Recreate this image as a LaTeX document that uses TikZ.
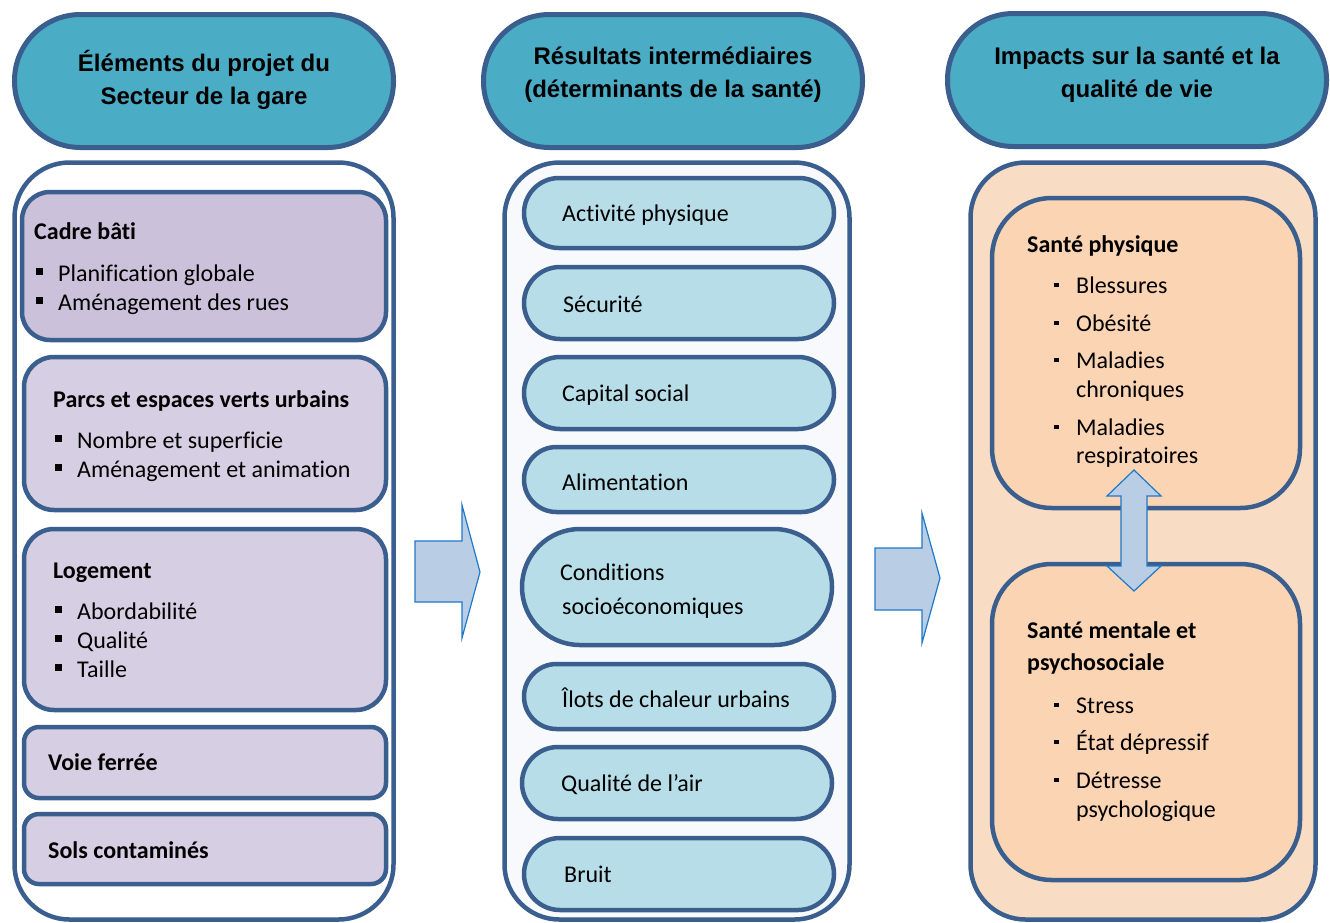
\documentclass[tikz,border=0pt]{standalone}
\usepackage{fontspec}
\setmainfont{Carlito}[Ligatures=CommonOff]
\newfontfamily\headfont{Liberation Sans}
\definecolor{edge}{HTML}{3A5F8E}
\definecolor{headblue}{HTML}{4BACC6}
\definecolor{lilacA}{HTML}{CCC1DA}
\definecolor{lilacB}{HTML}{D6CEE2}
\definecolor{paleblue}{HTML}{F7F9FD}
\definecolor{pillblue}{HTML}{B7DEE8}
\definecolor{peachout}{HTML}{F8DCC4}
\definecolor{peachin}{HTML}{FBD4B4}
\definecolor{arrowfill}{HTML}{B9CDE5}
\definecolor{arrowedge}{HTML}{1F78C8}
\newcommand{\bigsq}{\makebox[22pt][l]{\rule[6pt]{7pt}{7pt}}}
\newcommand{\smallsq}{\makebox[22pt][l]{\rule[6pt]{4.5pt}{4.5pt}}}

\begin{document}
\begin{tikzpicture}[x=1pt,y=-1pt,
    frame/.style={draw=edge, line width=4.5pt, inner sep=0pt, outer sep=0pt, anchor=north west},
    header/.style={draw=edge, line width=5pt, fill=headblue, minimum width=379pt, minimum height=133pt, rounded corners=66pt},
    headtext/.style={align=center, inner sep=0pt, font=\headfont\bfseries\fontsize{24}{33}\selectfont},
    pill/.style={frame, fill=pillblue, minimum width=310pt, minimum height=#1pt, rounded corners=#1*0.5pt},
    title/.style={anchor=base west, inner sep=0pt, font=\bfseries\fontsize{24}{29}\selectfont},
    itemtxt/.style={anchor=base west, inner sep=0pt, font=\fontsize{24}{29}\selectfont},
    blockarrow/.style={fill=arrowfill, draw=arrowedge, line width=1.2pt, line join=miter}]

    \useasboundingbox (0,0) rectangle (1330,922);

    % en-tetes
    \node[header] (projet) at (204,81) {};
    \node[header] (resultats) at (673,81) {};
    \node[header] (impacts) at (1137,80) {};
    \node[headtext] (projettxt) at (204,80) {Éléments du projet du\\Secteur de la gare};
    \node[headtext] (resultatstxt) at (673,75) {Résultats intermédiaires\\(déterminants de la santé)};
    \node[headtext] (impactstxt) at (1137,75) {Impacts sur la santé et la\\qualité de vie};

    % colonnes
    \node[frame, fill=white, rounded corners=55pt, minimum width=379pt, minimum height=757pt] (elems) at (14.5,162.5) {};
    \node[frame, fill=paleblue, rounded corners=55pt, minimum width=345pt, minimum height=757pt] (determ) at (504.5,162.5) {};
    \node[frame, fill=peachout, rounded corners=55pt, minimum width=345pt, minimum height=757pt] (sante) at (970.5,162.5) {};

    % elements du projet
    \node[frame, fill=lilacA, rounded corners=28pt, minimum width=364pt, minimum height=148pt] (cadre) at (22,192) {};
    \node[frame, fill=lilacB, rounded corners=30pt, minimum width=362pt, minimum height=153pt] (parcs) at (24,357) {};
    \node[frame, fill=lilacB, rounded corners=30pt, minimum width=362pt, minimum height=181pt] (logement) at (24,529) {};
    \node[frame, fill=lilacB, rounded corners=15pt, minimum width=362pt, minimum height=71pt] (voie) at (24,727) {};
    \node[frame, fill=lilacB, rounded corners=15pt, minimum width=362pt, minimum height=70pt] (sols) at (24,814) {};

    \node[title] (cadret) at (34,239) {Cadre bâti};
    \node[itemtxt] (cadre1) at (36,281) {\bigsq Planification globale};
    \node[itemtxt] (cadre2) at (36,310) {\bigsq Aménagement des rues};
    \node[title] (parcst) at (53,407) {Parcs et espaces verts urbains};
    \node[itemtxt] (parcs1) at (55,448) {\bigsq Nombre et superficie};
    \node[itemtxt] (parcs2) at (55,477) {\bigsq Aménagement et animation};
    \node[title] (logementt) at (53,578) {Logement};
    \node[itemtxt] (logement1) at (55,619) {\bigsq Abordabilité};
    \node[itemtxt] (logement2) at (55,648) {\bigsq Qualité};
    \node[itemtxt] (logement3) at (55,677) {\bigsq Taille};
    \node[title] (voiet) at (48,770) {Voie ferrée};
    \node[title] (solst) at (48,858) {Sols contaminés};

    % determinants
    \node[pill=70] (activite) at (524,178) {};
    \node[pill=72] (securite) at (524,267) {};
    \node[pill=72] (capital) at (524,357) {};
    \node[pill=65] (alim) at (524,447) {};
    \node[pill=116] (conditions) at (522,529) {};
    \node[pill=65] (ilots) at (524,664) {};
    \node[pill=72] (air) at (522,747) {};
    \node[pill=72] (bruit) at (524,838) {};

    \node[itemtxt] (activitet) at (562,221) {Activité physique};
    \node[itemtxt] (securitet) at (563,312) {Sécurité};
    \node[itemtxt] (capitalt) at (562,401) {Capital social};
    \node[itemtxt] (alimt) at (562,490) {Alimentation};
    \node[itemtxt] (conditionst) at (560,580) {Conditions};
    \node[itemtxt] (conditionst2) at (562,614) {socioéconomiques};
    \node[itemtxt] (ilotst) at (562,707) {Îlots de chaleur urbains};
    \node[itemtxt] (airt) at (561,791) {Qualité de l’air};
    \node[itemtxt] (bruitt) at (564,882) {Bruit};

    % impacts
    \node[frame, fill=peachin, rounded corners=60pt, minimum width=308pt, minimum height=310pt] (physique) at (992,198) {};
    \node[frame, fill=peachin, rounded corners=60pt, minimum width=308pt, minimum height=316pt] (mentale) at (992,564) {};

    \node[title] (physiquet) at (1027,252) {Santé physique};
    \node[itemtxt] (phys1) at (1054,293) {\smallsq Blessures};
    \node[itemtxt] (phys2) at (1054,331) {\smallsq Obésité};
    \node[itemtxt] (phys3) at (1054,368) {\smallsq Maladies};
    \node[itemtxt] (phys3b) at (1076,397) {chroniques};
    \node[itemtxt] (phys4) at (1054,435) {\smallsq Maladies};
    \node[itemtxt] (phys4b) at (1076,463) {respiratoires};
    \node[title] (mentalet) at (1027,638) {Santé mentale et};
    \node[title] (mentalet2) at (1027,670) {psychosociale};
    \node[itemtxt] (ment1) at (1054,713) {\smallsq Stress};
    \node[itemtxt] (ment2) at (1054,750) {\smallsq État dépressif};
    \node[itemtxt] (ment3) at (1054,788) {\smallsq Détresse};
    \node[itemtxt] (ment3b) at (1076,817) {psychologique};

    % fleches
    \draw[blockarrow] (415,541) -- (462,541) -- (462,505) -- (480,572) -- (462,638) -- (462,602) -- (415,602) -- cycle;
    \draw[blockarrow] (875,548) -- (922,548) -- (922,513) -- (940,578) -- (922,643) -- (922,610) -- (875,610) -- cycle;
    \draw[blockarrow] (1134,470) -- (1161,496) -- (1147,496) -- (1147,566) -- (1161,566) -- (1134,591)
        -- (1107,566) -- (1121,566) -- (1121,496) -- (1107,496) -- cycle;

\end{tikzpicture}
\end{document}
